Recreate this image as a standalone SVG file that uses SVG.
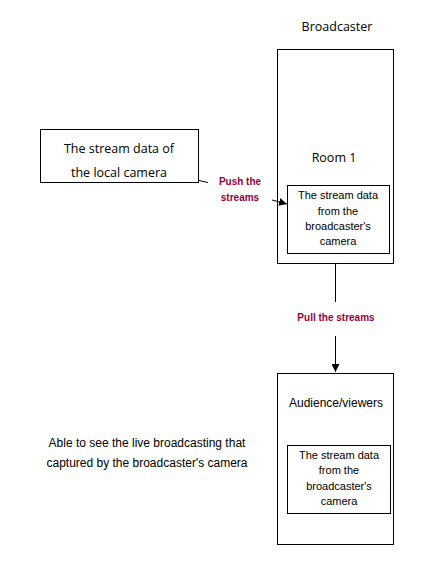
<svg xmlns="http://www.w3.org/2000/svg" width="444" height="571" viewBox="0 0 444 571">
<style>
.box{fill:#fff;stroke:#000;stroke-width:1}
.seg{font-family:"Open Sans","Noto Sans",sans-serif;font-size:12.5px;fill:#000;text-anchor:middle}
.ar{font-family:"Liberation Sans",Arial,sans-serif;fill:#000;text-anchor:middle}
.lbl{font-family:"Liberation Sans",Arial,sans-serif;font-size:10px;font-weight:bold;fill:#99003d;text-anchor:middle}
.edge{fill:none;stroke:#000;stroke-width:1}
</style>
<defs>
<marker id="ah" viewBox="0 0 10 10" refX="10" refY="5" markerWidth="8" markerHeight="8" markerUnits="userSpaceOnUse" orient="auto">
<path d="M0,0 L10,5 L0,10 Z" fill="#000"/>
</marker>
</defs>
<rect width="444" height="571" fill="#fff"/>
<g id="local-camera">
<rect class="box" x="40.5" y="129.5" width="158" height="53"/>
<text class="seg" x="119" y="153">The stream data of</text>
<text class="seg" x="119" y="177">the local camera</text>
</g>
<g id="broadcaster">
<text class="seg" x="337" y="31">Broadcaster</text>
<rect class="box" x="277.5" y="49.5" width="116" height="214"/>
<text class="seg" x="334" y="162">Room 1</text>
</g>
<g id="broadcaster-stream">
<rect class="box" x="287.5" y="185.5" width="102" height="68"/>
<text class="ar" font-size="11" x="338" y="199">The stream data</text>
<text class="ar" font-size="11" x="338" y="215">from the</text>
<text class="ar" font-size="11" x="338" y="230">broadcaster's</text>
<text class="ar" font-size="11" x="338" y="245">camera</text>
</g>
<g id="audience">
<rect class="box" x="277.5" y="373.5" width="116" height="171"/>
<text class="ar" font-size="12" x="336" y="407">Audience/viewers</text>
</g>
<g id="audience-stream">
<rect class="box" x="287.5" y="445.5" width="103" height="68"/>
<text class="ar" font-size="11" x="339" y="459">The stream data</text>
<text class="ar" font-size="11" x="339" y="474">from the</text>
<text class="ar" font-size="11" x="339" y="490">broadcaster's</text>
<text class="ar" font-size="11" x="339" y="505">camera</text>
</g>
<g id="note">
<text class="ar" font-size="12" x="147" y="447">Able to see the live broadcasting that</text>
<text class="ar" font-size="12" x="147" y="467">captured by the broadcaster's camera</text>
</g>
<g id="connectors">
<path class="edge" d="M199,180.5 L208,182.5"/>
<path class="edge" d="M272,200 L287,204" marker-end="url(#ah)"/>
<text class="lbl" x="240" y="185">Push the</text>
<text class="lbl" x="240" y="201">streams</text>
<path class="edge" d="M335.5,264 L335.5,302"/>
<path class="edge" d="M335.5,336 L335.5,372" marker-end="url(#ah)"/>
<text class="lbl" x="336" y="321">Pull the streams</text>
</g>
</svg>
